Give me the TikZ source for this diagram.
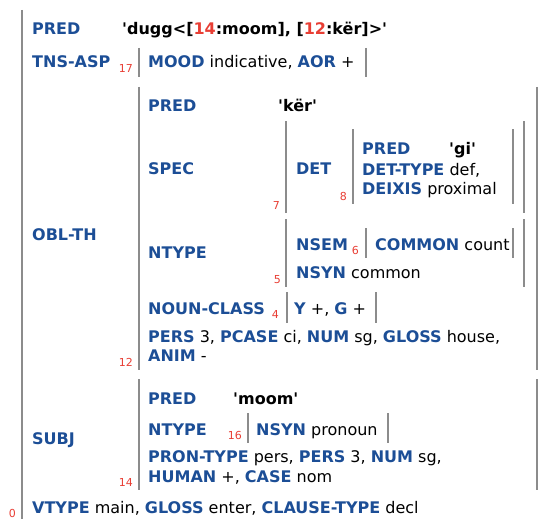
\documentclass[tikz,border=0pt]{standalone}
\usepackage{fontspec}
\setmainfont{DejaVu Sans}
\definecolor{attrblue}{RGB}{28,78,150}
\definecolor{idxred}{RGB}{232,62,52}
\definecolor{bargray}{RGB}{140,140,140}
\newcommand{\fattr}[1]{\textbf{\textcolor{attrblue}{#1}}}
\newcommand{\fidx}[1]{\textcolor{idxred}{#1}}
\newcommand{\sq}{\textquotesingle}

\begin{document}
\begin{tikzpicture}[x=1pt, y=-1pt,
		txt/.style = {anchor=base west, inner sep=0pt, font=\fontsize{16}{19}\selectfont},
		idx/.style = {anchor=base east, inner sep=0pt, text=idxred, font=\fontsize{11}{13}\selectfont},
		bar/.style = {draw=bargray, line width=2pt}]
		\useasboundingbox (0,0) rectangle (544,519);

		% outer f-structure
		\node[txt] (pred) at (32,35) {\fattr{PRED}};
		\node[txt] (predval) at (122,35) {\textbf{\sq dugg<[\fidx{14}:moom], [\fidx{12}:kër]>\sq}};
		\node[txt] (tnsasp) at (32,68) {\fattr{TNS-ASP}};
		\node[idx] (n17) at (133,73) {17};
		\node[txt] (mood) at (148,68) {\fattr{MOOD} indicative, \fattr{AOR} +};
		\node[txt] (oblth) at (32,240) {\fattr{OBL-TH}};
		\node[txt] (subj) at (32,444) {\fattr{SUBJ}};
		\node[txt] (vtype) at (32,513) {\fattr{VTYPE} main, \fattr{GLOSS} enter, \fattr{CLAUSE-TYPE} decl};
		\node[idx] (n0) at (16,517) {0};

		% OBL-TH
		\node[txt] (oblpred) at (148,112) {\fattr{PRED}};
		\node[txt] (oblpredval) at (278,112) {\textbf{\sq kër\sq}};
		\node[txt] (spec) at (148,174) {\fattr{SPEC}};
		\node[idx] (n7) at (280,209) {7};
		\node[txt] (det) at (296,174) {\fattr{DET}};
		\node[idx] (n8) at (347,200) {8};
		\node[txt] (detpred) at (362,154) {\fattr{PRED}};
		\node[txt] (detpredval) at (449,154) {\textbf{\sq gi\sq}};
		\node[txt] (dettype) at (362,175) {\fattr{DET-TYPE} def,};
		\node[txt] (deixis) at (362,194) {\fattr{DEIXIS} proximal};
		\node[txt] (oblntype) at (148,258) {\fattr{NTYPE}};
		\node[idx] (n5) at (281,283) {5};
		\node[txt] (nsem) at (296,250) {\fattr{NSEM}};
		\node[idx] (n6) at (359,254) {6};
		\node[txt] (common) at (375,250) {\fattr{COMMON} count};
		\node[txt] (oblnsyn) at (296,278) {\fattr{NSYN} common};
		\node[txt] (nclass) at (148,314) {\fattr{NOUN-CLASS}};
		\node[idx] (n4) at (279,318) {4};
		\node[txt] (yg) at (294,314) {\fattr{Y} +, \fattr{G} +};
		\node[txt] (pers) at (148,342) {\fattr{PERS} 3, \fattr{PCASE} ci, \fattr{NUM} sg, \fattr{GLOSS} house,};
		\node[txt] (anim) at (148,361) {\fattr{ANIM} -};
		\node[idx] (n12) at (133,366) {12};

		% SUBJ
		\node[txt] (subjpred) at (148,404) {\fattr{PRED}};
		\node[txt] (subjpredval) at (233,404) {\textbf{\sq moom\sq}};
		\node[txt] (subjntype) at (148,435) {\fattr{NTYPE}};
		\node[idx] (n16) at (242,439) {16};
		\node[txt] (subjnsyn) at (256,435) {\fattr{NSYN} pronoun};
		\node[txt] (prontype) at (148,462) {\fattr{PRON-TYPE} pers, \fattr{PERS} 3, \fattr{NUM} sg,};
		\node[txt] (human) at (148,482) {\fattr{HUMAN} +, \fattr{CASE} nom};
		\node[idx] (n14) at (133,486) {14};

		% brackets
		\path[bar]
			(22,10) -- (22,519)
			(139,48) -- (139,77)
			(366,48) -- (366,77)
			(139,87) -- (139,370)
			(537,87) -- (537,370)
			(286,121) -- (286,213)
			(524,121) -- (524,213)
			(353,129) -- (353,204)
			(513,129) -- (513,204)
			(286,219) -- (286,287)
			(524,219) -- (524,287)
			(366,228) -- (366,258)
			(513,228) -- (513,258)
			(287,292) -- (287,323)
			(376,292) -- (376,323)
			(139,379) -- (139,490)
			(537,379) -- (537,490)
			(248,413) -- (248,443)
			(388,413) -- (388,443);
\end{tikzpicture}
\end{document}
